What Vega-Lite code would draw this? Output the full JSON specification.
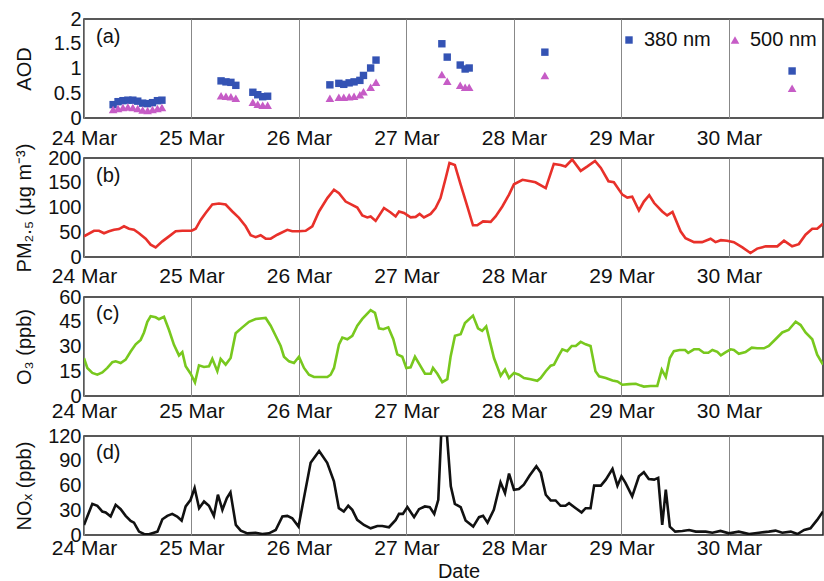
{
"$schema": "https://vega.github.io/schema/vega-lite/v6.json",
"autosize": {"type": "pad"},
"padding": {"left": 13, "top": 8, "right": 0, "bottom": 0},
"background": "white",
"spacing": 40,
"bounds": "flush",
"config": {
  "font": "Liberation Sans",
  "view": {"stroke": "#222", "strokeWidth": 1.5},
  "axis": {"labelFont": "Liberation Sans", "titleFont": "Liberation Sans", "labelFontSize": 20, "titleFontSize": 20, "titleFontWeight": "normal", "labelColor": "#111", "titleColor": "#111", "labelOverlap": false}
},
"datasets": {
  "aod": [
    {"h":6.5,"w":"380 nm","v":0.27},{"h":7.6,"w":"380 nm","v":0.33},{"h":8.7,"w":"380 nm","v":0.35},{"h":9.8,"w":"380 nm","v":0.36},{"h":10.9,"w":"380 nm","v":0.36},{"h":12.0,"w":"380 nm","v":0.34},{"h":13.1,"w":"380 nm","v":0.30},{"h":14.2,"w":"380 nm","v":0.29},{"h":15.3,"w":"380 nm","v":0.31},{"h":16.4,"w":"380 nm","v":0.35},{"h":17.4,"w":"380 nm","v":0.36},
    {"h":30.6,"w":"380 nm","v":0.75},{"h":31.7,"w":"380 nm","v":0.73},{"h":32.8,"w":"380 nm","v":0.72},{"h":33.9,"w":"380 nm","v":0.66},
    {"h":37.7,"w":"380 nm","v":0.52},{"h":38.8,"w":"380 nm","v":0.47},{"h":39.9,"w":"380 nm","v":0.43},{"h":41.0,"w":"380 nm","v":0.44},
    {"h":54.9,"w":"380 nm","v":0.67},{"h":56.9,"w":"380 nm","v":0.70},{"h":58.0,"w":"380 nm","v":0.68},{"h":59.2,"w":"380 nm","v":0.71},{"h":60.3,"w":"380 nm","v":0.73},{"h":61.6,"w":"380 nm","v":0.76},{"h":62.4,"w":"380 nm","v":0.86},{"h":64.0,"w":"380 nm","v":1.01},{"h":65.2,"w":"380 nm","v":1.17},
    {"h":79.9,"w":"380 nm","v":1.50},{"h":81.1,"w":"380 nm","v":1.23},{"h":84.0,"w":"380 nm","v":1.07},{"h":85.1,"w":"380 nm","v":0.99},{"h":86.0,"w":"380 nm","v":1.01},
    {"h":102.9,"w":"380 nm","v":1.33},{"h":158.1,"w":"380 nm","v":0.95},
    {"h":6.5,"w":"500 nm","v":0.17},{"h":7.6,"w":"500 nm","v":0.19},{"h":8.7,"w":"500 nm","v":0.21},{"h":9.8,"w":"500 nm","v":0.22},{"h":10.9,"w":"500 nm","v":0.21},{"h":12.0,"w":"500 nm","v":0.19},{"h":13.1,"w":"500 nm","v":0.16},{"h":14.2,"w":"500 nm","v":0.15},{"h":15.3,"w":"500 nm","v":0.17},{"h":16.4,"w":"500 nm","v":0.19},{"h":17.4,"w":"500 nm","v":0.21},
    {"h":30.6,"w":"500 nm","v":0.45},{"h":31.7,"w":"500 nm","v":0.44},{"h":32.8,"w":"500 nm","v":0.43},{"h":33.9,"w":"500 nm","v":0.40},
    {"h":37.7,"w":"500 nm","v":0.32},{"h":38.8,"w":"500 nm","v":0.28},{"h":39.9,"w":"500 nm","v":0.26},{"h":41.0,"w":"500 nm","v":0.26},
    {"h":54.9,"w":"500 nm","v":0.40},{"h":56.9,"w":"500 nm","v":0.42},{"h":58.0,"w":"500 nm","v":0.42},{"h":59.2,"w":"500 nm","v":0.43},{"h":60.3,"w":"500 nm","v":0.44},{"h":61.6,"w":"500 nm","v":0.47},{"h":62.4,"w":"500 nm","v":0.53},{"h":64.0,"w":"500 nm","v":0.62},{"h":65.2,"w":"500 nm","v":0.72},
    {"h":79.9,"w":"500 nm","v":0.88},{"h":81.1,"w":"500 nm","v":0.74},{"h":84.0,"w":"500 nm","v":0.66},{"h":85.1,"w":"500 nm","v":0.62},{"h":86.0,"w":"500 nm","v":0.62},
    {"h":102.9,"w":"500 nm","v":0.86},{"h":158.1,"w":"500 nm","v":0.60}
  ],
  "pm": [
    {"h":0,"v":41.7},{"h":2.23,"v":53},{"h":3.35,"v":53},{"h":4.47,"v":48},{"h":5.58,"v":52},{"h":6.7,"v":55},{"h":7.81,"v":56.5},{"h":8.93,"v":62},{"h":10.05,"v":57},{"h":11.16,"v":55},{"h":12.28,"v":48},{"h":13.77,"v":37},{"h":14.88,"v":25},{"h":16,"v":19.5},{"h":17.49,"v":31.6},{"h":18.98,"v":41.7},{"h":20.47,"v":52},{"h":21.95,"v":53},{"h":24.04,"v":53},{"h":24.93,"v":57},{"h":26.05,"v":75},{"h":27.16,"v":89},{"h":28.65,"v":106},{"h":30.14,"v":108},{"h":31.63,"v":106},{"h":33.12,"v":92},{"h":34.61,"v":79},{"h":36.09,"v":62},{"h":37.21,"v":44},{"h":38.33,"v":40},{"h":39.44,"v":44},{"h":40.56,"v":37},{"h":41.68,"v":37},{"h":43.16,"v":45},{"h":45.4,"v":55},{"h":46.51,"v":52},{"h":48,"v":52},{"h":49.49,"v":53},{"h":50.98,"v":62},{"h":52.47,"v":92},{"h":54.33,"v":119},{"h":55.82,"v":136},{"h":56.93,"v":129},{"h":58.42,"v":112},{"h":59.54,"v":107},{"h":61.02,"v":100},{"h":62.14,"v":84},{"h":63.26,"v":80},{"h":64,"v":82},{"h":65.12,"v":73},{"h":66.98,"v":99},{"h":68.47,"v":90},{"h":69.58,"v":82},{"h":70.33,"v":92},{"h":71.45,"v":89},{"h":72.93,"v":80},{"h":74.05,"v":81},{"h":74.94,"v":87},{"h":75.9,"v":80},{"h":77.4,"v":87},{"h":78.5,"v":99},{"h":79.6,"v":119},{"h":80.75,"v":159},{"h":81.6,"v":190},{"h":82.8,"v":186},{"h":84.1,"v":146},{"h":85.6,"v":102},{"h":86.85,"v":64},{"h":87.8,"v":64},{"h":89.1,"v":72},{"h":90.8,"v":71},{"h":91.9,"v":82},{"h":93.4,"v":102},{"h":94.9,"v":126},{"h":96,"v":147},{"h":97.9,"v":156},{"h":99.7,"v":153},{"h":100.8,"v":151},{"h":103.1,"v":139},{"h":104.9,"v":188},{"h":106.4,"v":186},{"h":107.5,"v":183},{"h":109,"v":197},{"h":110.9,"v":174},{"h":112.4,"v":183},{"h":114.1,"v":194},{"h":115.4,"v":180},{"h":117.1,"v":153},{"h":118.3,"v":151},{"h":120.2,"v":126},{"h":121.3,"v":120},{"h":122.4,"v":122},{"h":123.9,"v":94},{"h":125,"v":112},{"h":126.2,"v":125},{"h":127.3,"v":109},{"h":129.1,"v":92},{"h":130.2,"v":84},{"h":131.4,"v":91},{"h":133.2,"v":52},{"h":134.3,"v":38},{"h":136.2,"v":30},{"h":138,"v":30},{"h":139.9,"v":37},{"h":141,"v":30},{"h":142.2,"v":34},{"h":143.6,"v":33},{"h":145.1,"v":30},{"h":147,"v":19.5},{"h":148.8,"v":8},{"h":150.3,"v":17},{"h":152.2,"v":21.5},{"h":154.8,"v":21.5},{"h":156.3,"v":33},{"h":158.1,"v":21.5},{"h":159.6,"v":26},{"h":161.1,"v":45},{"h":162.6,"v":57},{"h":163.7,"v":57},{"h":165,"v":67}
  ],
  "o3": [
    {"h":0,"v":23},{"h":0.74,"v":17},{"h":1.86,"v":14},{"h":2.98,"v":12.9},{"h":4.09,"v":14.3},{"h":5.21,"v":17},{"h":6.33,"v":20.5},{"h":7.07,"v":21},{"h":8.19,"v":20},{"h":9.3,"v":22},{"h":10.42,"v":27},{"h":11.54,"v":31.3},{"h":12.65,"v":34},{"h":13.4,"v":38.5},{"h":14.14,"v":45},{"h":14.88,"v":48.3},{"h":16,"v":47.7},{"h":16.74,"v":46.5},{"h":17.86,"v":48},{"h":18.98,"v":40},{"h":20.09,"v":31},{"h":21.21,"v":24.6},{"h":21.95,"v":26.6},{"h":22.7,"v":18},{"h":23.81,"v":13.5},{"h":24.78,"v":8.2},{"h":25.67,"v":18.6},{"h":26.79,"v":17.6},{"h":27.91,"v":18},{"h":28.65,"v":22.5},{"h":29.77,"v":15},{"h":30.51,"v":22.5},{"h":31.63,"v":19},{"h":32.74,"v":23},{"h":33.86,"v":38},{"h":35.35,"v":41.6},{"h":36.84,"v":45},{"h":38.33,"v":46.7},{"h":40.56,"v":47.3},{"h":41.68,"v":42.6},{"h":42.79,"v":36.5},{"h":43.91,"v":30.3},{"h":44.65,"v":23.8},{"h":45.77,"v":21},{"h":46.88,"v":20},{"h":48,"v":23.8},{"h":49.12,"v":17},{"h":50.23,"v":12.9},{"h":51.35,"v":11.5},{"h":54.33,"v":11.5},{"h":55.07,"v":12.9},{"h":55.82,"v":17},{"h":56.93,"v":31.3},{"h":57.68,"v":35.4},{"h":58.79,"v":34.4},{"h":59.91,"v":36.5},{"h":61.02,"v":42.6},{"h":62.14,"v":46.7},{"h":64,"v":52},{"h":64.97,"v":50.4},{"h":65.86,"v":41},{"h":66.83,"v":40.5},{"h":67.94,"v":41.6},{"h":69.06,"v":34.4},{"h":69.95,"v":25.2},{"h":71.07,"v":23.8},{"h":71.97,"v":17},{"h":72.93,"v":17.4},{"h":73.9,"v":23.8},{"h":74.94,"v":19},{"h":76.13,"v":13.5},{"h":77.4,"v":13.5},{"h":77.92,"v":17},{"h":78.89,"v":13.5},{"h":80.0,"v":8.4},{"h":81.12,"v":10.2},{"h":81.86,"v":24},{"h":82.83,"v":36.5},{"h":84.1,"v":37.5},{"h":85.06,"v":44.2},{"h":86.85,"v":48.7},{"h":87.97,"v":41},{"h":88.9,"v":39.5},{"h":89.8,"v":42.2},{"h":91.54,"v":23},{"h":93.03,"v":12.3},{"h":94,"v":16},{"h":94.89,"v":10.9},{"h":96,"v":14},{"h":97.12,"v":12.9},{"h":98.24,"v":10.9},{"h":99.73,"v":10.2},{"h":101.2,"v":9.2},{"h":101.96,"v":10.9},{"h":103.1,"v":15},{"h":104.2,"v":18.4},{"h":104.94,"v":19},{"h":105.9,"v":24},{"h":106.8,"v":28.3},{"h":107.9,"v":27.2},{"h":108.9,"v":30.3},{"h":109.8,"v":30.3},{"h":110.9,"v":32.8},{"h":112,"v":31.3},{"h":113.1,"v":30.3},{"h":114.2,"v":15},{"h":115,"v":11.9},{"h":116.5,"v":10.9},{"h":118,"v":9.4},{"h":119.1,"v":8.8},{"h":120.2,"v":6.8},{"h":121.7,"v":7.2},{"h":123.2,"v":7.4},{"h":124.3,"v":6.3},{"h":125,"v":5.7},{"h":126.5,"v":6.1},{"h":128,"v":6.1},{"h":129,"v":16},{"h":129.9,"v":11.5},{"h":130.8,"v":23},{"h":131.7,"v":27.2},{"h":133,"v":27.9},{"h":134.2,"v":27.9},{"h":134.9,"v":26.2},{"h":136.2,"v":28.3},{"h":137.3,"v":28.3},{"h":138.4,"v":26.2},{"h":139.4,"v":26.2},{"h":140.3,"v":27.9},{"h":141.4,"v":26.8},{"h":142.2,"v":24.6},{"h":143.3,"v":26.6},{"h":144.4,"v":28.3},{"h":145.1,"v":27.9},{"h":146.2,"v":25.6},{"h":147.7,"v":26.6},{"h":149.1,"v":29.3},{"h":150.3,"v":28.9},{"h":151.8,"v":28.9},{"h":152.9,"v":30.3},{"h":154.4,"v":34.4},{"h":155.9,"v":38.5},{"h":157.3,"v":40},{"h":158.9,"v":45},{"h":160,"v":43},{"h":161.1,"v":38.5},{"h":162.6,"v":34.4},{"h":163.7,"v":25},{"h":165,"v":19}
  ],
  "nox": [
    {"h":0,"v":12.2},{"h":0.74,"v":22.4},{"h":1.86,"v":37.8},{"h":2.98,"v":35.4},{"h":4.09,"v":28.5},{"h":4.84,"v":27.3},{"h":5.95,"v":22.4},{"h":7.07,"v":36.6},{"h":8.19,"v":31.3},{"h":9.3,"v":23.2},{"h":10.42,"v":17.1},{"h":11.16,"v":15},{"h":12.28,"v":4.1},{"h":13.4,"v":1.2},{"h":14.5,"v":0.8},{"h":15.6,"v":2.8},{"h":16.4,"v":4.1},{"h":17.5,"v":19.1},{"h":18.6,"v":23.2},{"h":19.7,"v":25.6},{"h":20.8,"v":22.4},{"h":21.8,"v":17.5},{"h":22.7,"v":34.6},{"h":23.8,"v":42.7},{"h":24.7,"v":57},{"h":25.7,"v":32.5},{"h":26.8,"v":40.7},{"h":27.9,"v":35.4},{"h":29,"v":23.2},{"h":29.9,"v":48.8},{"h":30.9,"v":30.5},{"h":31.9,"v":44.7},{"h":32.7,"v":51.7},{"h":33.9,"v":12.2},{"h":35,"v":5.3},{"h":36.5,"v":2},{"h":38.3,"v":2.8},{"h":39.8,"v":1.2},{"h":41.3,"v":2},{"h":42.8,"v":6.1},{"h":44.3,"v":22.4},{"h":45.4,"v":23.2},{"h":46.5,"v":20.3},{"h":47.9,"v":10.2},{"h":49.1,"v":44.7},{"h":50.6,"v":87.5},{"h":52.5,"v":101.7},{"h":54.3,"v":87.5},{"h":55.8,"v":65.1},{"h":56.9,"v":32.5},{"h":58,"v":28.5},{"h":59,"v":35.4},{"h":59.9,"v":30.5},{"h":61,"v":18.3},{"h":62.5,"v":12.2},{"h":64,"v":8.1},{"h":65.5,"v":11},{"h":66.6,"v":11},{"h":68.1,"v":9.4},{"h":69.6,"v":18.3},{"h":70.33,"v":25.6},{"h":71.2,"v":25.6},{"h":72.2,"v":33.8},{"h":73.7,"v":21.6},{"h":74.8,"v":31.3},{"h":76.1,"v":34.6},{"h":77.2,"v":33.8},{"h":78.2,"v":25.6},{"h":79.1,"v":42.7},{"h":79.9,"v":140},{"h":80.8,"v":138},{"h":81.9,"v":59},{"h":82.8,"v":37.8},{"h":84.1,"v":33.8},{"h":85.2,"v":17.5},{"h":86.9,"v":10.2},{"h":88.2,"v":21.6},{"h":89.1,"v":23.2},{"h":90.1,"v":15},{"h":91.5,"v":30.5},{"h":93,"v":63.9},{"h":94,"v":50.9},{"h":94.9,"v":74.4},{"h":96,"v":54.9},{"h":97.1,"v":55.7},{"h":98.2,"v":61},{"h":99.5,"v":72},{"h":101,"v":83.4},{"h":102,"v":75.3},{"h":103.1,"v":48.8},{"h":104.2,"v":41.9},{"h":105.3,"v":41.9},{"h":106.4,"v":35.4},{"h":107.5,"v":35.4},{"h":108.3,"v":38.6},{"h":109.8,"v":32.5},{"h":111.1,"v":27.3},{"h":112,"v":32.5},{"h":113.1,"v":32.5},{"h":113.9,"v":59.8},{"h":115.4,"v":59.8},{"h":116.5,"v":67.1},{"h":118,"v":80.1},{"h":119.1,"v":59.8},{"h":120,"v":71.2},{"h":120.9,"v":63.1},{"h":122.4,"v":46.8},{"h":123.9,"v":71.2},{"h":125,"v":76.1},{"h":126.1,"v":67.9},{"h":127.3,"v":67.1},{"h":128.2,"v":69.2},{"h":129.1,"v":12.2},{"h":129.9,"v":54.9},{"h":130.8,"v":10.2},{"h":132,"v":4.1},{"h":133.6,"v":4.9},{"h":135.1,"v":6.1},{"h":136.6,"v":4.1},{"h":138.8,"v":4.1},{"h":140.3,"v":2.8},{"h":142.1,"v":4.9},{"h":144,"v":2},{"h":146.2,"v":4.1},{"h":148.5,"v":1.2},{"h":150.7,"v":2.8},{"h":152.9,"v":4.1},{"h":154.4,"v":5.3},{"h":155.9,"v":2.8},{"h":157.8,"v":4.1},{"h":159.3,"v":1.2},{"h":160.8,"v":6.1},{"h":162.2,"v":8.1},{"h":163.7,"v":18.3},{"h":165,"v":28.5}
  ],
  "labels": [
    {"p":"a","h":2.68,"v":1.636,"t":"(a)"},{"p":"b","h":2.68,"v":164.6,"t":"(b)"},{"p":"c","h":2.68,"v":50,"t":"(c)"},{"p":"d","h":2.68,"v":98.8,"t":"(d)"}
  ]
},
"vconcat": [
  {
    "width": 739, "height": 99,
    "encoding": {
      "x": {"field": "h", "type": "quantitative", "scale": {"domain": [0, 165], "nice": false, "zero": false},
            "axis": {"values": [0,24,48,72,96,120,144], "labelExpr": "['24 Mar','25 Mar','26 Mar','27 Mar','28 Mar','29 Mar','30 Mar'][round(datum.value/24)]", "grid": true, "gridColor": "#888", "gridWidth": 1, "ticks": false, "domain": false, "labelFlush": false, "labelOverlap": false, "labelFontSize": 21, "labelPadding": 9, "title": null}},
      "y": {"field": "v", "type": "quantitative", "scale": {"domain": [0, 2], "nice": false},
            "axis": {"values": [0,0.5,1,1.5,2], "format": ".1~f", "grid": false, "ticks": false, "domain": false, "labelOverlap": false, "labelFlush": false, "labelBound": false, "labelPadding": 3, "title": "AOD", "titleX": -50}}
    },
    "layer": [
      {
        "data": {"name": "aod"},
        "mark": {"type": "point", "filled": true, "opacity": 1, "clip": true},
        "encoding": {
          "color": {"field": "w", "type": "nominal", "scale": {"domain": ["380 nm","500 nm"], "range": ["#3453B4","#C65CC6"]},
                    "legend": {"orient": "none", "legendX": 535, "legendY": 11, "direction": "horizontal", "title": null, "labelFontSize": 20, "labelFont": "Liberation Sans", "labelColor": "#111", "symbolSize": 64, "labelOffset": 5, "columnPadding": 14, "padding": 0, "symbolStrokeWidth": 0}},
          "shape": {"field": "w", "type": "nominal", "scale": {"domain": ["380 nm","500 nm"], "range": ["square","triangle-up"]}},
          "size": {"field": "w", "type": "nominal", "scale": {"domain": ["380 nm","500 nm"], "range": [55, 75]}, "legend": null}
        }
      },
      {
        "data": {"name": "labels"},
        "transform": [{"filter": "datum.p == 'a'"}],
        "mark": {"type": "text", "align": "left", "baseline": "middle", "fontSize": 20, "color": "#111"},
        "encoding": {"text": {"field": "t"}}
      }
    ]
  },
  {
    "width": 739, "height": 99,
    "encoding": {
      "x": {"field": "h", "type": "quantitative", "scale": {"domain": [0, 165], "nice": false, "zero": false},
            "axis": {"values": [0,24,48,72,96,120,144], "labelExpr": "['24 Mar','25 Mar','26 Mar','27 Mar','28 Mar','29 Mar','30 Mar'][round(datum.value/24)]", "grid": true, "gridColor": "#888", "gridWidth": 1, "ticks": false, "domain": false, "labelFlush": false, "labelOverlap": false, "labelFontSize": 21, "labelPadding": 8, "title": null}},
      "y": {"field": "v", "type": "quantitative", "scale": {"domain": [0, 200], "nice": false},
            "axis": {"values": [0,50,100,150,200], "grid": false, "ticks": false, "domain": false, "labelOverlap": false, "labelFlush": false, "labelBound": false, "labelPadding": 3, "title": "PM₂.₅ (μg m⁻³)", "titleX": -50}}
    },
    "layer": [
      {
        "data": {"name": "pm"},
        "mark": {"type": "line", "color": "#E8302A", "strokeWidth": 2.6, "clip": true}
      },
      {
        "data": {"name": "labels"},
        "transform": [{"filter": "datum.p == 'b'"}],
        "mark": {"type": "text", "align": "left", "baseline": "middle", "fontSize": 20, "color": "#111"},
        "encoding": {"text": {"field": "t"}}
      }
    ]
  },
  {
    "width": 739, "height": 99,
    "encoding": {
      "x": {"field": "h", "type": "quantitative", "scale": {"domain": [0, 165], "nice": false, "zero": false},
            "axis": {"values": [0,24,48,72,96,120,144], "labelExpr": "['24 Mar','25 Mar','26 Mar','27 Mar','28 Mar','29 Mar','30 Mar'][round(datum.value/24)]", "grid": true, "gridColor": "#888", "gridWidth": 1, "ticks": false, "domain": false, "labelFlush": false, "labelOverlap": false, "labelFontSize": 21, "labelPadding": 4, "title": null}},
      "y": {"field": "v", "type": "quantitative", "scale": {"domain": [0, 60], "nice": false},
            "axis": {"values": [0,15,30,45,60], "grid": false, "ticks": false, "domain": false, "labelOverlap": false, "labelFlush": false, "labelBound": false, "labelPadding": 3, "title": "O₃ (ppb)", "titleX": -50}}
    },
    "layer": [
      {
        "data": {"name": "o3"},
        "mark": {"type": "line", "color": "#78C81E", "strokeWidth": 2.6, "clip": true}
      },
      {
        "data": {"name": "labels"},
        "transform": [{"filter": "datum.p == 'c'"}],
        "mark": {"type": "text", "align": "left", "baseline": "middle", "fontSize": 20, "color": "#111"},
        "encoding": {"text": {"field": "t"}}
      }
    ]
  },
  {
    "width": 739, "height": 99,
    "encoding": {
      "x": {"field": "h", "type": "quantitative", "scale": {"domain": [0, 165], "nice": false, "zero": false},
            "axis": {"values": [0,24,48,72,96,120,144], "labelExpr": "['24 Mar','25 Mar','26 Mar','27 Mar','28 Mar','29 Mar','30 Mar'][round(datum.value/24)]", "grid": true, "gridColor": "#888", "gridWidth": 1, "ticks": false, "domain": false, "labelFlush": false, "labelOverlap": false, "labelFontSize": 21, "labelPadding": 2, "title": "Date", "titlePadding": 3, "titleX": 374.5}},
      "y": {"field": "v", "type": "quantitative", "scale": {"domain": [0, 120], "nice": false},
            "axis": {"values": [0,30,60,90,120], "grid": false, "ticks": false, "domain": false, "labelOverlap": false, "labelFlush": false, "labelBound": false, "labelPadding": 3, "title": "NOₓ (ppb)", "titleX": -50}}
    },
    "layer": [
      {
        "data": {"name": "nox"},
        "mark": {"type": "line", "color": "#111", "strokeWidth": 2.6, "clip": true}
      },
      {
        "data": {"name": "labels"},
        "transform": [{"filter": "datum.p == 'd'"}],
        "mark": {"type": "text", "align": "left", "baseline": "middle", "fontSize": 20, "color": "#111"},
        "encoding": {"text": {"field": "t"}}
      }
    ]
  }
]
}
